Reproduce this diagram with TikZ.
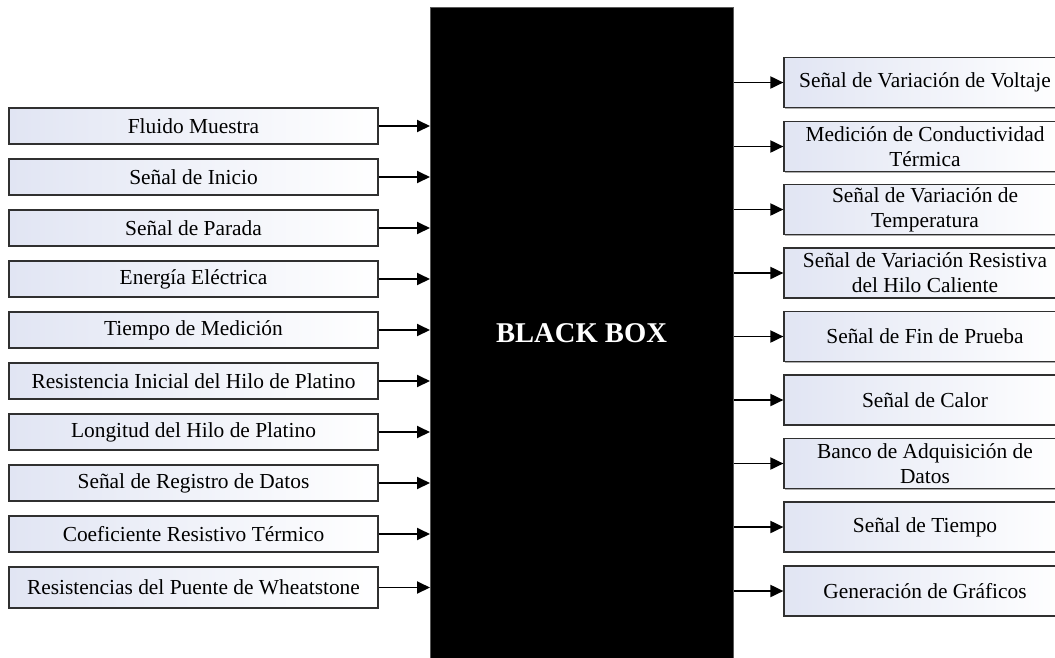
\documentclass[tikz,border=0pt]{standalone}
\usepackage{fontspec}
\setmainfont{Liberation Serif}
\usetikzlibrary{arrows.meta,shadows}
\definecolor{boxblue}{HTML}{E1E5F3}
\definecolor{boxline}{HTML}{303030}
\tikzset{
  sig/.style={draw=boxline, line width=1.2pt, left color=boxblue, right color=white,
    minimum height=36pt, inner sep=0pt, align=center,
    font=\fontsize{21.4}{25}\selectfont,
    drop shadow={shadow xshift=0.8pt, shadow yshift=-1.2pt, opacity=0.45, fill=black!70}},
  insig/.style={sig, minimum width=369pt},
  outsig/.style={sig, minimum width=282pt, minimum height=50pt},
  arr/.style={line width=1.9pt, -{Triangle[length=13pt,width=12pt]}},
}
\begin{document}
\begin{tikzpicture}[x=1pt,y=-1pt]
\useasboundingbox (0,0) rectangle (1055,657);
\clip (0,0) rectangle (1055,657);
% black box
\node[draw=black!65, line width=1.2pt, fill=black, minimum width=303pt, minimum height=670pt,
  inner sep=0pt, anchor=north west] (bb) at (430,7) {};
\node[text=white, font=\fontsize{28.6}{32}\selectfont\bfseries] (bbl) at (581.5,333.5) {BLACK BOX};
% inputs
\node[insig] (l1) at (193.5,126) {Fluido Muestra};
\node[insig] (l2) at (193.5,177) {Señal de Inicio};
\node[insig] (l3) at (193.5,228) {Señal de Parada};
\node[insig] (l4) at (193.5,279) {Energía Eléctrica};
\node[insig] (l5) at (193.5,330) {Tiempo de Medición};
\node[insig] (l6) at (193.5,381) {Resistencia Inicial del Hilo de Platino};
\node[insig] (l7) at (193.5,432) {Longitud del Hilo de Platino};
\node[insig] (l8) at (193.5,483) {Señal de Registro de Datos};
\node[insig] (l9) at (193.5,534) {Coeficiente Resistivo Térmico};
\node[insig, minimum height=41pt] (l10) at (193.5,587.5) {Resistencias del Puente de Wheatstone};
\foreach \i in {1,...,10} {
  \draw[arr] (l\i.east) -- (l\i.east -| bb.west);
}
% outputs
\node[outsig] (r1) at (925,82.5) {Señal de Variación de Voltaje};
\node[outsig] (r2) at (925,146.5) {Medición de Conductividad\\Térmica};
\node[outsig] (r3) at (925,209.5) {Señal de Variación de\\Temperatura};
\node[outsig] (r4) at (925,273) {Señal de Variación Resistiva\\del Hilo Caliente};
\node[outsig] (r5) at (925,336.5) {Señal de Fin de Prueba};
\node[outsig] (r6) at (925,400) {Señal de Calor};
\node[outsig] (r7) at (925,463.5) {Banco de Adquisición de\\Datos};
\node[outsig] (r8) at (925,527) {Señal de Tiempo};
\node[outsig] (r9) at (925,591) {Generación de Gráficos};
\foreach \i in {1,...,9} {
  \draw[arr] (r\i.west -| bb.east) -- (r\i.west);
}
\end{tikzpicture}
\end{document}
